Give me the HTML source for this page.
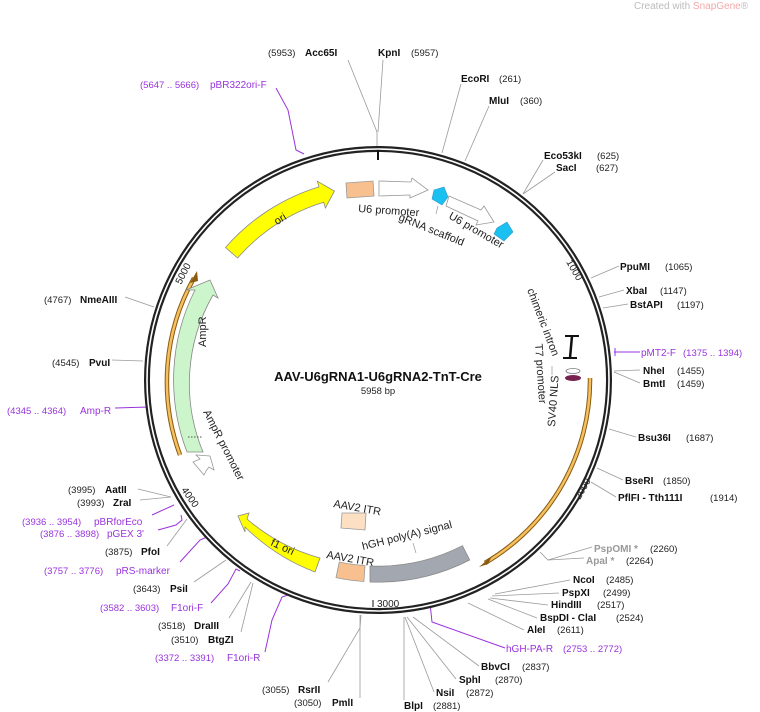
<!DOCTYPE html>
<html><head><meta charset="utf-8"><style>
html,body{margin:0;padding:0;background:#fff;}
svg{display:block;font-family:"Liberation Sans","DejaVu Sans",sans-serif;}
.n{font-size:9.5px;fill:#222;}
.b{font-size:10px;font-weight:bold;fill:#111;}
.p{font-size:10px;fill:#9933dd;}
.g{font-size:10px;fill:#999;font-weight:bold;}
.f{font-size:11px;fill:#222;}
line.l{stroke:#9a9a9a;stroke-width:0.8;}
polyline.l{stroke:#9a9a9a;stroke-width:0.8;fill:none;}
polyline.pl{stroke:#9933dd;stroke-width:1;fill:none;}
</style></head><body>
<svg width="760" height="712" viewBox="0 0 760 712" xmlns="http://www.w3.org/2000/svg">
<rect width="760" height="712" fill="#fff"/>
<text x="634" y="9" style="font-size:10px;fill:#bbb">Created with <tspan fill="#f3a8a8">SnapGene</tspan>®</text>

<!-- leader lines -->
<polyline class="l" points="348,60 377,132 377,146"/>
<polyline class="l" points="383,60 378,132"/>
<line class="l" x1="461" y1="84" x2="442" y2="153"/>
<line class="l" x1="489" y1="106" x2="465" y2="161"/>
<polyline class="l" points="543,160 523,194"/>
<polyline class="l" points="555,172 523,194"/>
<line class="l" x1="619" y1="266" x2="591" y2="278"/>
<line class="l" x1="624" y1="290" x2="599" y2="297"/>
<line class="l" x1="628" y1="304" x2="603" y2="308"/>
<line class="l" x1="640" y1="370" x2="614" y2="371"/>
<line class="l" x1="640" y1="383" x2="614" y2="372"/>
<line class="l" x1="636" y1="437" x2="609" y2="429"/>
<line class="l" x1="623" y1="480" x2="597" y2="468"/>
<line class="l" x1="616" y1="497" x2="591" y2="482"/>
<polyline class="l" points="592,547 548,560 540,552"/>
<polyline class="l" points="584,558 548,560"/>
<line class="l" x1="570" y1="580" x2="495" y2="594"/>
<line class="l" x1="559" y1="593" x2="492" y2="596"/>
<line class="l" x1="548" y1="605" x2="490" y2="598"/>
<line class="l" x1="537" y1="618" x2="488" y2="599"/>
<line class="l" x1="524" y1="630" x2="468" y2="603"/>
<line class="l" x1="479" y1="666" x2="413" y2="617"/>
<line class="l" x1="456" y1="679" x2="407" y2="617"/>
<line class="l" x1="434" y1="692" x2="405" y2="617"/>
<line class="l" x1="404" y1="700" x2="404" y2="617"/>
<polyline class="l" points="328,682 360,628 361,615"/>
<line class="l" x1="360" y1="698" x2="360" y2="615"/>
<line class="l" x1="229" y1="618" x2="251" y2="582"/>
<line class="l" x1="241" y1="632" x2="253" y2="583"/>
<line class="l" x1="194" y1="582" x2="226" y2="560"/>
<line class="l" x1="167" y1="546" x2="187" y2="519"/>
<line class="l" x1="140" y1="500" x2="171" y2="497"/>
<line class="l" x1="138" y1="489" x2="171" y2="497"/>
<line class="l" x1="112" y1="360" x2="143" y2="361"/>
<line class="l" x1="125" y1="297" x2="154" y2="307"/>

<!-- primer lines -->
<polyline class="pl" points="276,88 288,110 296,150 304,154"/>
<polyline class="pl" points="614,352 640,352"/><line x1="615" y1="348" x2="615" y2="356" stroke="#9933dd"/>
<polyline class="pl" points="505,648 432,622 430,603 434,602"/>
<polyline class="pl" points="265,652 272,620 282,597 288,595"/>
<polyline class="pl" points="211,603 228,584 236,569 240,571"/>
<polyline class="pl" points="180,562 200,540 209,536"/>
<polyline class="pl" points="158,530 176,525 182,520 181,515"/>
<polyline class="pl" points="152,515 174,505"/>
<polyline class="pl" points="115,408 150,407 150,404"/>

<!-- main circle -->
<circle cx="378" cy="380" r="231" fill="none" stroke="#222" stroke-width="6"/>
<circle cx="378" cy="380" r="231" fill="none" stroke="#fff" stroke-width="1.6"/>
<line x1="378" y1="150" x2="378" y2="160" stroke="#111" stroke-width="2"/>

<!-- tick labels -->
<text class="n" x="0" y="0" transform="translate(566,262) rotate(60)" style="font-size:10px">1000</text>
<text class="n" x="0" y="0" transform="translate(580,500) rotate(-60)" style="font-size:10px">2000</text>
<text class="n" x="377" y="607" style="font-size:10px">3000</text>
<line x1="373" y1="600" x2="373" y2="607" stroke="#111"/>
<text class="n" x="0" y="0" transform="translate(181,490) rotate(55)" style="font-size:10px">4000</text>
<text class="n" x="0" y="0" transform="translate(181,285) rotate(-63)" style="font-size:10px">5000</text>

<!-- orange thin arrows -->
<path d="M590 378 A212 212 0 0 1 485 563" fill="none" stroke="#8a5a10" stroke-width="4.5"/>
<path d="M590 378 A212 212 0 0 1 485 563" fill="none" stroke="#f5c060" stroke-width="2.5"/>
<polygon points="479,567 492,556 488,564" fill="#8a5a10"/>
<path d="M180 455 A212 212 0 0 1 194 278" fill="none" stroke="#8a5a10" stroke-width="4.5"/>
<path d="M180 455 A212 212 0 0 1 194 278" fill="none" stroke="#f5c060" stroke-width="2.5"/>
<polygon points="197,271 190,283 198,281" fill="#8a5a10"/>

<!-- ori -->
<path d="M237.6 258 L225.5 247.5 A202 202 0 0 1 319 186.9 L317.3 181.2 L334.4 191 L325.4 207.9 L323.7 202.2 A186 186 0 0 0 237.6 258 Z" fill="#ffff00" stroke="#888" stroke-width="0.8"/>
<text class="f" transform="translate(282,222) rotate(-32)" text-anchor="middle">ori</text>

<!-- U6 promoter 1 -->
<polygon points="346,183 373,181 374,196 347,198" fill="#f9c08f" stroke="#999" stroke-width="0.8"/>
<polygon points="379,181 411,182 412,178 428,190 410,198 410,195 379,196" fill="#fff" stroke="#999" stroke-width="0.8"/>
<text class="f" x="358" y="212" transform="rotate(4 358 212)">U6 promoter</text>
<polygon points="434,190 444,187 448,197 442,205 432,199" fill="#19c0f0" stroke="#3399cc" stroke-width="0.6"/>
<line x1="438" y1="206" x2="436" y2="214" stroke="#999" stroke-width="0.7"/>
<polygon points="449,196 481,210 484,206 494,222 476,225 478,221 446,206" fill="#fff" stroke="#999" stroke-width="0.8"/>
<polygon points="497,228 507,222 513,232 504,241 494,234" fill="#19c0f0" stroke="#3399cc" stroke-width="0.6"/>
<text class="f" transform="translate(398,220) rotate(22)">gRNA scaffold</text>
<text class="f" transform="translate(448,218) rotate(30)">U6 promoter</text>

<!-- chimeric intron etc -->
<text class="f" transform="translate(527,290) rotate(69)">chimeric intron</text>
<text class="f" transform="translate(535,344) rotate(86)">T7 promoter</text>
<line x1="572" y1="336" x2="570" y2="358" stroke="#111" stroke-width="2.5"/>
<line x1="565" y1="336" x2="579" y2="336" stroke="#111" stroke-width="2"/>
<line x1="563" y1="358" x2="577" y2="358" stroke="#111" stroke-width="2"/>
<ellipse cx="573" cy="371" rx="7" ry="2.5" fill="#fff" stroke="#777" stroke-width="0.8"/>
<ellipse cx="573" cy="378" rx="8" ry="3" fill="#7a2050"/>
<text class="f" transform="translate(555,427) rotate(-86)">SV40 NLS</text>
<line x1="552" y1="366" x2="552" y2="375" stroke="#999" stroke-width="0.7"/>

<!-- AmpR -->
<path d="M187 452 A200 200 0 0 1 195 290 L186 290 L210 280 L218 298 L213 295 A178 178 0 0 0 203 452 Z" fill="#ccf5cc" stroke="#888" stroke-width="0.8"/>
<line x1="188" y1="437" x2="203" y2="437" stroke="#555" stroke-dasharray="1.5,1.5"/>
<text class="f" transform="translate(206,347) rotate(-90)">AmpR</text>
<polygon points="204,475 193,462 200,459 196,455 210,456 214,470 209,467 206,471" fill="#fff" stroke="#999" stroke-width="0.8"/>
<text class="f" transform="translate(203,412) rotate(63)">AmpR promoter</text>

<!-- f1 ori -->
<path d="M320 558 A187 187 0 0 1 247 519 L249 513 L238 516 L245 532 L245 527 A202 202 0 0 0 315 572 Z" fill="#ffff00" stroke="#888" stroke-width="0.8"/>
<text class="f" transform="translate(270,545) rotate(25)">f1 ori</text>

<!-- ITRs and hGH -->
<polygon points="342,513 366,513 365,530 341,528" fill="#fde0c3" stroke="#999" stroke-width="0.8"/>
<text class="f" x="333" y="507" transform="rotate(10 333 507)">AAV2 ITR</text>
<path d="M363.9 581.5 A202 202 0 0 1 336 577.6 L339.3 562 A186 186 0 0 0 365 565.6 Z" fill="#f9c08f" stroke="#999" stroke-width="0.8"/>
<text class="f" x="326" y="558" transform="rotate(10 326 558)">AAV2 ITR</text>
<path d="M469.7 560 A202 202 0 0 1 370 582 L370 566 A186 186 0 0 0 462.4 545.7 Z" fill="#a3a8b0" stroke="#888" stroke-width="0.8"/>
<text class="f" x="363" y="550" transform="rotate(-14 363 550)">hGH poly(A) signal</text>
<line x1="413" y1="543" x2="416" y2="553" stroke="#999" stroke-width="0.7"/>

<!-- center -->
<text x="378" y="381" text-anchor="middle" style="font-size:13px;font-weight:bold;fill:#111">AAV-U6gRNA1-U6gRNA2-TnT-Cre</text>
<text x="378" y="394" text-anchor="middle" style="font-size:9.5px;fill:#222">5958 bp</text>

<!-- labels -->
<text class="n" x="268" y="56">(5953)</text><text class="b" x="305" y="56">Acc65I</text>
<text class="b" x="378" y="56">KpnI</text><text class="n" x="411" y="56">(5957)</text>
<text class="b" x="461" y="82">EcoRI</text><text class="n" x="499" y="82">(261)</text>
<text class="b" x="489" y="104">MluI</text><text class="n" x="520" y="104">(360)</text>
<text class="b" x="544" y="159">Eco53kI</text><text class="n" x="597" y="159">(625)</text>
<text class="b" x="556" y="171">SacI</text><text class="n" x="596" y="171">(627)</text>
<text class="b" x="620" y="270">PpuMI</text><text class="n" x="665" y="270">(1065)</text>
<text class="b" x="626" y="294">XbaI</text><text class="n" x="660" y="294">(1147)</text>
<text class="b" x="630" y="308">BstAPI</text><text class="n" x="677" y="308">(1197)</text>
<text class="p" x="641" y="356">pMT2-F</text><text class="p" x="683" y="356" style="font-size:9.5px">(1375 .. 1394)</text>
<text class="b" x="643" y="374">NheI</text><text class="n" x="677" y="374">(1455)</text>
<text class="b" x="643" y="387">BmtI</text><text class="n" x="677" y="387">(1459)</text>
<text class="b" x="638" y="441">Bsu36I</text><text class="n" x="686" y="441">(1687)</text>
<text class="b" x="625" y="484">BseRI</text><text class="n" x="663" y="484">(1850)</text>
<text class="b" x="618" y="501">PflFI - Tth111I</text><text class="n" x="710" y="501">(1914)</text>
<text class="g" x="594" y="552">PspOMI *</text><text class="n" x="650" y="552">(2260)</text>
<text class="g" x="586" y="564">ApaI *</text><text class="n" x="626" y="564">(2264)</text>
<text class="b" x="573" y="583">NcoI</text><text class="n" x="606" y="583">(2485)</text>
<text class="b" x="562" y="596">PspXI</text><text class="n" x="603" y="596">(2499)</text>
<text class="b" x="551" y="608">HindIII</text><text class="n" x="597" y="608">(2517)</text>
<text class="b" x="540" y="621">BspDI - ClaI</text><text class="n" x="616" y="621">(2524)</text>
<text class="b" x="527" y="633">AleI</text><text class="n" x="557" y="633">(2611)</text>
<text class="p" x="506" y="652">hGH-PA-R</text><text class="p" x="563" y="652" style="font-size:9.5px">(2753 .. 2772)</text>
<text class="b" x="481" y="670">BbvCI</text><text class="n" x="522" y="670">(2837)</text>
<text class="b" x="459" y="683">SphI</text><text class="n" x="495" y="683">(2870)</text>
<text class="b" x="436" y="696">NsiI</text><text class="n" x="466" y="696">(2872)</text>
<text class="b" x="404" y="709">BlpI</text><text class="n" x="433" y="709">(2881)</text>
<text class="n" x="262" y="693">(3055)</text><text class="b" x="298" y="693">RsrII</text>
<text class="n" x="294" y="706">(3050)</text><text class="b" x="332" y="706">PmlI</text>
<text class="p" x="155" y="661" style="font-size:9.5px">(3372 .. 3391)</text><text class="p" x="227" y="661">F1ori-R</text>
<text class="n" x="158" y="629">(3518)</text><text class="b" x="194" y="629">DraIII</text>
<text class="n" x="171" y="643">(3510)</text><text class="b" x="208" y="643">BtgZI</text>
<text class="p" x="100" y="611" style="font-size:9.5px">(3582 .. 3603)</text><text class="p" x="171" y="611">F1ori-F</text>
<text class="n" x="133" y="592">(3643)</text><text class="b" x="170" y="592">PsiI</text>
<text class="p" x="44" y="574" style="font-size:9.5px">(3757 .. 3776)</text><text class="p" x="116" y="574">pRS-marker</text>
<text class="n" x="105" y="555">(3875)</text><text class="b" x="141" y="555">PfoI</text>
<text class="p" x="40" y="537" style="font-size:9.5px">(3876 .. 3898)</text><text class="p" x="107" y="537">pGEX 3'</text>
<text class="p" x="22" y="525" style="font-size:9.5px">(3936 .. 3954)</text><text class="p" x="94" y="525">pBRforEco</text>
<text class="n" x="77" y="506">(3993)</text><text class="b" x="113" y="506">ZraI</text>
<text class="n" x="68" y="493">(3995)</text><text class="b" x="105" y="493">AatII</text>
<text class="p" x="7" y="414" style="font-size:9.5px">(4345 .. 4364)</text><text class="p" x="80" y="414">Amp-R</text>
<text class="n" x="52" y="366">(4545)</text><text class="b" x="89" y="366">PvuI</text>
<text class="n" x="44" y="303">(4767)</text><text class="b" x="80" y="303">NmeAIII</text>
<text class="p" x="140" y="88" style="font-size:9.5px">(5647 .. 5666)</text><text class="p" x="210" y="88">pBR322ori-F</text>
</svg>
</body></html>
